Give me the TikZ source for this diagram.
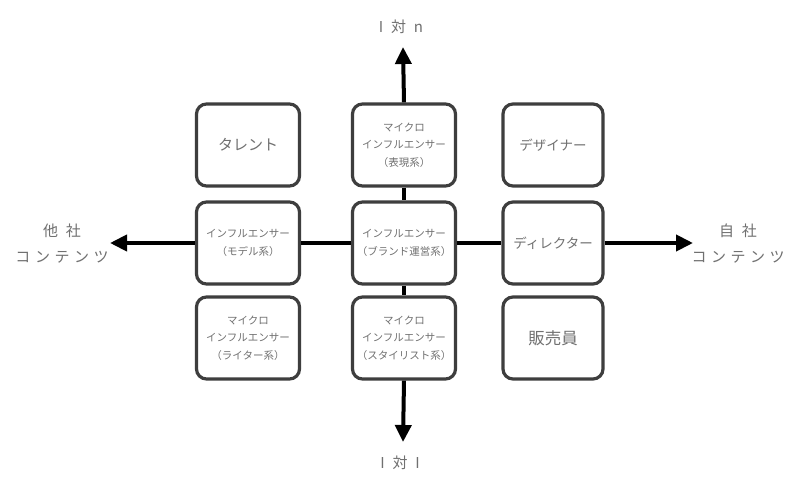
\documentclass[tikz,border=0pt]{standalone}
\usepackage{fontspec}
\setmainfont{Noto Sans CJK JP}
\newfontfamily\spacedfont[LetterSpace=30]{Noto Sans CJK JP}
\usetikzlibrary{arrows.meta}
\definecolor{txt}{HTML}{707070}
\definecolor{edge}{HTML}{3E3E3E}
\tikzset{
  cell/.style={draw=edge, line width=3.2pt, rounded corners=10pt, fill=white,
    minimum width=103pt, minimum height=82pt, inner sep=0pt, align=center,
    text=txt, font=\fontsize{10.5}{17.5}\selectfont},
  bigcell/.style={cell, font=\fontsize{13.5}{18}\selectfont},
  axis/.style={line width=4pt, black},
  axisarrow/.style={axis, -{Triangle[length=17pt,width=16pt]}},
  lbl/.style={text=txt, font=\spacedfont\fontsize{15}{26}\selectfont, align=center, inner sep=0pt}
}
\begin{document}
\begin{tikzpicture}[x=1pt,y=-1pt]
\useasboundingbox (0,0) rectangle (800,484);
\fill[white] (0,0) rectangle (800,484);
% axis tips
\coordinate (toptip) at (403,47);
\coordinate (bottomtip) at (403,442);
\coordinate (lefttip) at (110,243);
\coordinate (righttip) at (693,243);
% nodes
\node[bigcell, font=\fontsize{15}{18}\selectfont] (tl) at (248,145) {タレント};
\node[cell] (tm) at (404,145) {マイクロ\\インフルエンサー\\（表現系）};
\node[bigcell, minimum width=100pt] (tr) at (553,145) {デザイナー};
\node[cell] (ml) at (248,243) {インフルエンサー\\（モデル系）};
\node[cell] (mm) at (404,243) {インフルエンサー\\（ブランド運営系）};
\node[bigcell, minimum width=100pt] (mr) at (553,243) {ディレクター};
\node[cell] (bl) at (248,338) {マイクロ\\インフルエンサー\\（ライター系）};
\node[cell] (bm) at (404,338) {マイクロ\\インフルエンサー\\（スタイリスト系）};
\node[bigcell, minimum width=100pt, font=\fontsize{16.5}{18}\selectfont] (br) at (553,338) {販売員};
% connectors
\draw[axisarrow] (tm.north) -- (toptip);
\draw[axis] (tm.south) -- (mm.north);
\draw[axis] (mm.south) -- (bm.north);
\draw[axisarrow] (bm.south) -- (bottomtip);
\draw[axisarrow] (ml.west) -- (lefttip);
\draw[axis] (ml.east) -- (mm.west);
\draw[axis] (mm.east) -- (mr.west);
\draw[axisarrow] (mr.east) -- (righttip);
% labels
\node[lbl] (ltop) at (401,27) {I 対 n};
\node[lbl] (lbottom) at (400,463) {I 対 I};
\node[lbl] (lleft) at (62,244) {他 社\\コンテンツ};
\node[lbl] (lright) at (738,244) {自 社\\コンテンツ};
\end{tikzpicture}
\end{document}
